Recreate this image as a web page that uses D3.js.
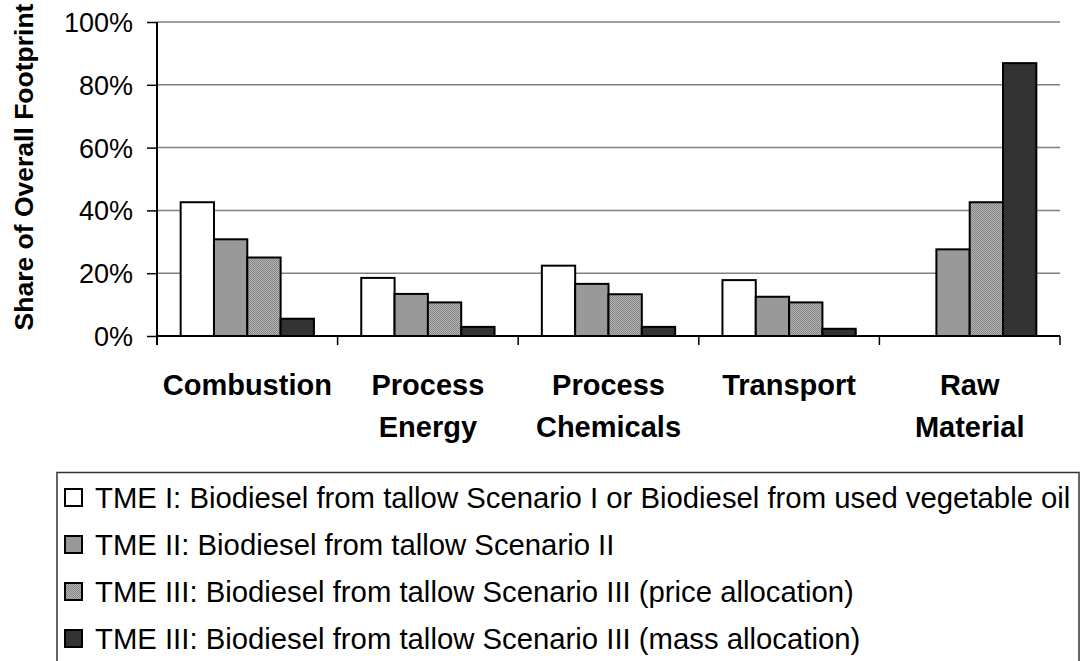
<!DOCTYPE html>
<html><head><meta charset="utf-8">
<script src="https://cdn.jsdelivr.net/npm/d3@7"></script>
<style>body{margin:0;background:#fff}svg{display:block;font-family:"Liberation Sans",Arial,sans-serif}</style>
</head><body><svg id="c" width="1081" height="661"></svg>
<script>
const categories = [["Combustion"],["Process","Energy"],["Process","Chemicals"],["Transport"],["Raw","Material"]];
const seriesNames = [
  "TME I: Biodiesel from tallow Scenario I or Biodiesel from used vegetable oil",
  "TME II: Biodiesel from tallow Scenario II",
  "TME III: Biodiesel from tallow Scenario III (price allocation)",
  "TME III: Biodiesel from tallow Scenario III (mass allocation)"
];
const tmeI     = [0.426, 0.185, 0.224, 0.178, 0.0];
const tmeII    = [0.308, 0.134, 0.166, 0.125, 0.276];
const tmeIIIp  = [0.250, 0.107, 0.133, 0.107, 0.426];
const tmeIIIm  = [0.055, 0.029, 0.029, 0.023, 0.869];
const yTicks = [0, 0.2, 0.4, 0.6, 0.8, 1.0];
const seriesValues = [tmeI, tmeII, tmeIIIp, tmeIIIm];

(function(){
const svg = d3.select("#c");
const defs = svg.append("defs");
const pat = defs.append("pattern").attr("id","dither").attr("width",2).attr("height",2).attr("patternUnits","userSpaceOnUse");
pat.append("rect").attr("width",2).attr("height",2).attr("fill","#b4b4b4");
pat.append("rect").attr("width",1).attr("height",1).attr("fill","#858585");
pat.append("rect").attr("x",1).attr("y",1).attr("width",1).attr("height",1).attr("fill","#858585");
const fills = ["#ffffff","#999999","url(#dither)","#333333"];

const pLeft = 157, pRight = 1060, pTop = 22, pBottom = 336;
const catKeys = categories.map(c => c.join(" "));
const x = d3.scaleBand().domain(catKeys).range([pLeft, pRight]);
const xi = d3.scaleBand().domain(d3.range(4)).range([0, x.bandwidth()]).paddingOuter(0.71);
const y = d3.scaleLinear().domain([0,1]).range([pBottom, pTop]);

// gridlines
svg.append("g").selectAll("line").data(yTicks.filter(d=>d>0)).join("line")
  .attr("x1",pLeft).attr("x2",pRight).attr("y1",d=>y(d)).attr("y2",d=>y(d))
  .attr("stroke","#808080").attr("stroke-width",1.5);

// bars
const data = [];
catKeys.forEach((c,ci)=>seriesValues.forEach((s,si)=>{ if(s[ci]>0) data.push({c,si,v:s[ci]}); }));
svg.append("g").selectAll("rect").data(data).join("rect")
  .attr("x",d=>x(d.c)+xi(d.si)).attr("width",xi.bandwidth())
  .attr("y",d=>y(d.v)).attr("height",d=>y(0)-y(d.v))
  .attr("fill",d=>fills[d.si]).attr("stroke","#000").attr("stroke-width",2);

// y axis
const yAxis = d3.axisLeft(y).tickValues(yTicks).tickFormat(d3.format(".0%")).tickSize(10).tickSizeOuter(0).tickPadding(14);
const gy = svg.append("g").attr("transform",`translate(${pLeft},0)`).call(yAxis);
gy.select(".domain").remove();
gy.selectAll(".tick line").attr("stroke","#000").attr("stroke-width",1.5);
gy.selectAll(".tick text").attr("font-size",27).attr("fill","#000").attr("font-family","Liberation Sans, Arial, sans-serif").attr("dy","0.35em");
svg.append("line").attr("x1",pLeft).attr("x2",pLeft).attr("y1",pTop).attr("y2",pBottom+9).attr("stroke","#000").attr("stroke-width",2);

// x axis
const boundaries = catKeys.map(c=>x(c)).concat([pRight]);
svg.append("g").selectAll("line").data(boundaries).join("line")
  .attr("x1",d=>d).attr("x2",d=>d).attr("y1",pBottom).attr("y2",pBottom+9)
  .attr("stroke","#000").attr("stroke-width",1.5);
svg.append("line").attr("x1",pLeft).attr("x2",pRight).attr("y1",pBottom).attr("y2",pBottom).attr("stroke","#000").attr("stroke-width",2);

const labG = svg.append("g").attr("font-weight","bold").attr("font-size",29).attr("text-anchor","middle").attr("fill","#000");
categories.forEach((lines,ci)=>{
  const cx = x(catKeys[ci]) + x.bandwidth()/2;
  const t = labG.append("text").attr("x", cx);
  lines.forEach((ln,li)=>t.append("tspan").attr("x", cx).attr("y", 395 + li*42).text(ln));
});

// y title
svg.append("text").attr("transform","translate(33,167) rotate(-90)").attr("text-anchor","middle")
  .attr("font-weight","bold").attr("font-size",26.5).attr("fill","#000").text("Share of Overall Footprint");

// legend
svg.append("rect").attr("x",57).attr("y",472.5).attr("width",1022).attr("height",260)
  .attr("fill","none").attr("stroke","#333").attr("stroke-width",1.5);
const lg = svg.append("g").selectAll("g").data(seriesNames).join("g")
  .attr("transform",(d,i)=>`translate(0,${498 + i*47})`);
lg.append("rect").attr("x",65).attr("y",-9).attr("width",17).attr("height",17)
  .attr("fill",(d,i)=>fills[i]).attr("stroke","#000").attr("stroke-width",2);
lg.append("text").attr("x",95).attr("y",9.5).attr("font-size",29.3).attr("fill","#000").text(d=>d);
})();
</script></body></html>
